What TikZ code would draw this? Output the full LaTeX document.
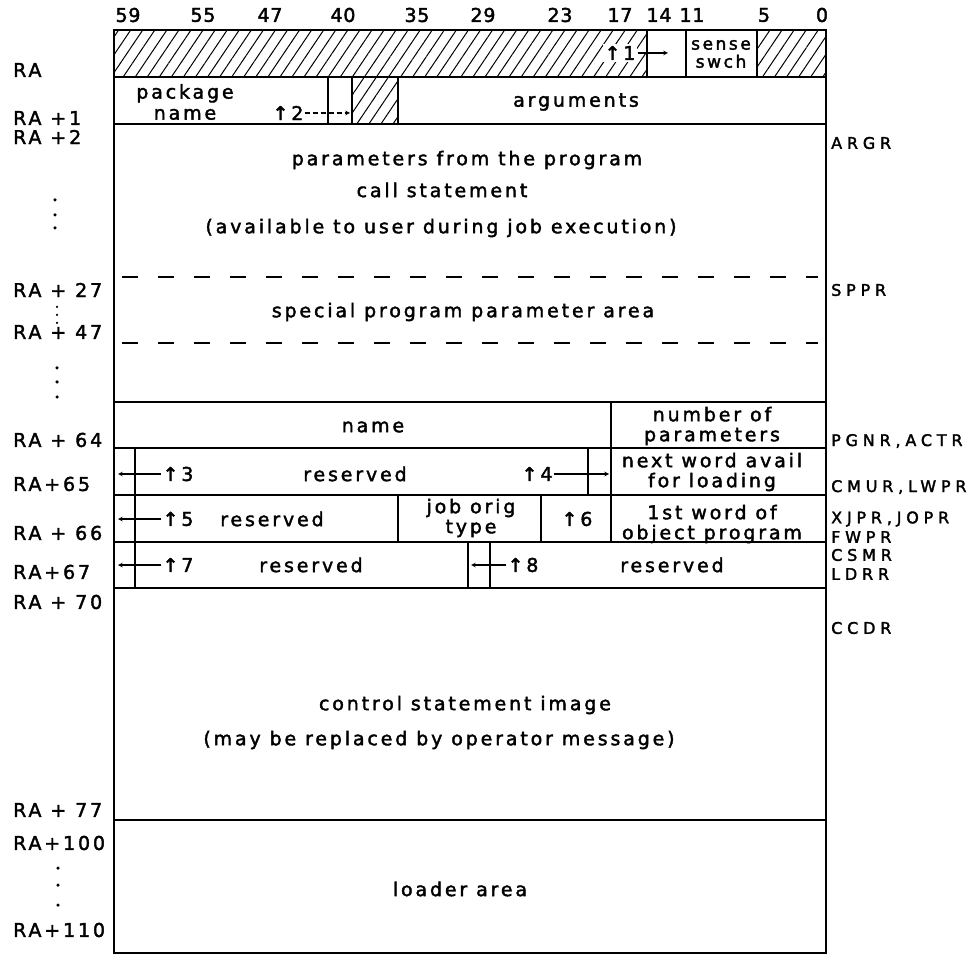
\documentclass[tikz,border=0pt]{standalone}
\usepackage{fontspec}
\setmainfont{DejaVu Sans}[LetterSpace=15, FakeBold=2]
\newfontfamily\digitfont{DejaVu Sans}[LetterSpace=4, FakeBold=2]
\newfontfamily\regfont{DejaVu Sans}[LetterSpace=30, FakeBold=2]
\usepackage{tikz}
\usetikzlibrary{arrows, patterns.meta, positioning}

\begin{document}
\begin{tikzpicture}[
    x=1pt, y=-1pt,
    every node/.append style={font=\fontsize{19}{20}\selectfont, inner sep=1pt},
    frame/.style={line width=1.9pt},
    hatch/.style={pattern={Lines[angle=56, distance=10pt, line width=1pt]}},
    gap/.style={line width=1.5pt, dash pattern=on 16pt off 20pt},
    field/.style={align=center},
    bit/.style={font=\digitfont\fontsize{19}{20}\selectfont},
    addr/.style={anchor=west},
    reg/.style={anchor=west, inner sep=0pt, font=\regfont\fontsize{16}{16}\selectfont},
    note/.style={fill=white, inner sep=2pt},
    ptr/.style={line width=1.1pt, ->, >=stealth},
    dot/.style={circle, fill, inner sep=0pt, minimum size=3.5pt}
]
\useasboundingbox (0,0) rectangle (972,957);

% hatched (unused) bits
\fill[hatch] (114,30) rectangle (647,77);
\fill[hatch] (757,30) rectangle (826,77);
\fill[hatch] (352,77) rectangle (398,124);

% outline and word boundaries
\draw[frame] (114,30) rectangle (826,953);
\foreach \y in {77,124,402,448,495,542,588,820}
  \draw[frame] (114,\y) -- (826,\y);
\draw[frame] (647,30) -- (647,77);
\draw[frame] (686,30) -- (686,77);
\draw[frame] (757,30) -- (757,77);
\draw[frame] (328,77) -- (328,124);
\draw[frame] (352,77) -- (352,124);
\draw[frame] (398,77) -- (398,124);
\draw[frame] (611,402) -- (611,542);
\draw[frame] (588,448) -- (588,495);
\draw[frame] (398,495) -- (398,542);
\draw[frame] (541,495) -- (541,542);
\draw[frame] (468,542) -- (468,588);
\draw[frame] (490,542) -- (490,588);
\draw[frame] (135,448) -- (135,588);
\draw[gap] (122,277) -- (818,277);
\draw[gap] (122,343) -- (818,343);

% bit numbers
\node[bit] (b59) at (128,15) {59};
\node[bit] (b55) at (203,15) {55};
\node[bit] (b47) at (270,15) {47};
\node[bit] (b40) at (343,15) {40};
\node[bit] (b35) at (417,15) {35};
\node[bit] (b29) at (483,15) {29};
\node[bit] (b23) at (560,15) {23};
\node[bit] (b17) at (620,15) {17};
\node[bit] (b14) at (659,15) {14};
\node[bit] (b11) at (692,15) {11};
\node[bit] (b5) at (764,15) {5};
\node[bit] (b0) at (822,15) {0};

% word contents
\node[note] (fn1) at (620,53) {↑1};
\coordinate (p1) at (668,53);
\draw[ptr] (fn1.east) -- (p1);
\node[field, font=\fontsize{17}{18}\selectfont] (sense) at (721,54) {sense\\swch};
\node[field, font=\fontsize{19}{21}\selectfont] (pkg) at (185,102) {package\\name};
\node (fn2) at (288,113) {↑2};
\coordinate (p2) at (350,113);
\draw[ptr, dash pattern=on 5pt off 3pt] (fn2.east) -- (p2);
\node (args) at (576,102) {arguments};
\node (parm) at (467,160) {parameters from the program};
\node (call) at (442,190) {call statement};
\node (avail) at (441,228) {(available to user during job execution)};
\node (sppa) at (463,312) {special program parameter area};
\node (pname) at (373,427) {name};
\node[field] (nparm) at (712,426) {number of\\parameters};
\node (fn3) at (178,474) {↑3};
\coordinate (p3) at (118,474);
\draw[ptr] (fn3.west) -- (p3);
\node (res65) at (355,474) {reserved};
\node (fn4) at (537,474) {↑4};
\coordinate (p4) at (609,474);
\draw[ptr] (fn4.east) -- (p4);
\node[field] (nxtw) at (712,472) {next word avail\\for loading};
\node (fn5) at (178,519) {↑5};
\coordinate (p5) at (118,519);
\draw[ptr] (fn5.west) -- (p5);
\node (res66) at (272,519) {reserved};
\node[field] (jot) at (471,518) {job orig\\type};
\node (fn6) at (577,519) {↑6};
\node[field] (firstw) at (712,524) {1st word of\\object program};
\node (fn7) at (178,565) {↑7};
\coordinate (p7) at (118,565);
\draw[ptr] (fn7.west) -- (p7);
\node (res67a) at (311,565) {reserved};
\node (fn8) at (523,565) {↑8};
\coordinate (p8) at (471,565);
\draw[ptr] (fn8.west) -- (p8);
\node (res67b) at (672,565) {reserved};
\node (ccimg) at (465,705) {control statement image};
\node (opmsg) at (439,740) {(may be replaced by operator message)};
\node (ldr) at (460,889) {loader area};

% addresses
\node[addr] (ra) at (12,70) {RA};
\node[addr] (ra1) at (12,118) {RA +1};
\node[addr] (ra2) at (12,137) {RA +2};
\node[addr] (ra27) at (12,290) {RA + 27};
\node[addr] (ra47) at (12,332) {RA + 47};
\node[addr] (ra64) at (12,440) {RA + 64};
\node[addr] (ra65) at (12,484) {RA+65};
\node[addr] (ra66) at (12,533) {RA + 66};
\node[addr] (ra67) at (12,572) {RA+67};
\node[addr] (ra70) at (12,602) {RA + 70};
\node[addr] (ra77) at (12,810) {RA + 77};
\node[addr] (ra100) at (12,843) {RA+100};
\node[addr] (ra110) at (12,930) {RA+110};
\foreach \y [count=\i] in {200,215,228}
  \node[dot] (da\i) at (55,\y) {};
\foreach \y [count=\i] in {307,315,323}
  \node[dot, minimum size=2.5pt] (db\i) at (57,\y) {};
\foreach \y [count=\i] in {368,382,397}
  \node[dot] (dc\i) at (57,\y) {};
\foreach \y [count=\i] in {868,885,905}
  \node[dot] (dd\i) at (58,\y) {};

% register names
\node[reg] (argr) at (831,143) {ARGR};
\node[reg] (sppr) at (831,290) {SPPR};
\node[reg] (pgnr) at (831,441) {PGNR,ACTR};
\node[reg] (cmur) at (831,487) {CMUR,LWPR};
\node[reg] (xjpr) at (831,519) {XJPR,JOPR};
\node[reg] (fwpr) at (831,537) {FWPR};
\node[reg] (csmr) at (831,555) {CSMR};
\node[reg] (ldrr) at (831,574) {LDRR};
\node[reg] (ccdr) at (831,628) {CCDR};
\end{tikzpicture}
\end{document}
